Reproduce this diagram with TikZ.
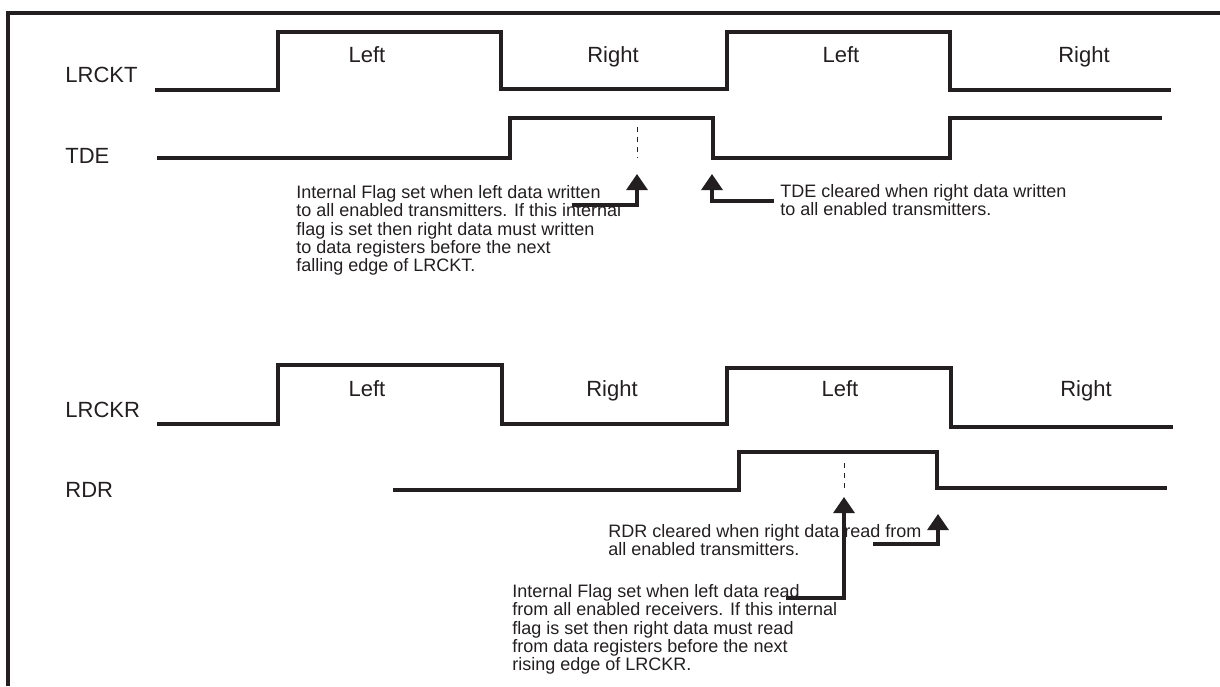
\documentclass[tikz,border=0pt]{standalone}
\usepackage{fontspec}
\setmainfont{Liberation Sans}
\usetikzlibrary{arrows.meta}
\definecolor{ink}{RGB}{35,31,32}
\begin{document}
\begin{tikzpicture}[x=0.5pt,y=-0.5pt,
  sig/.style={draw=ink,line width=1.6pt,line join=miter},
  frame/.style={draw=ink,line width=1.6pt},
  lbl/.style={font=\fontsize{11}{13}\selectfont,text=ink,inner sep=0pt,anchor=base west},
  half/.style={font=\fontsize{11}{13}\selectfont,text=ink,inner sep=0pt,anchor=base},
  note/.style={font=\fontsize{9}{9.15}\selectfont,text=ink,inner sep=0pt,anchor=north west,align=left},
  ptr/.style={draw=ink,line width=1.6pt,line join=miter,-{Triangle[width=10.5pt,length=8pt]}},
  guide/.style={draw=ink,line width=0.5pt,dash pattern=on 2.5pt off 2.5pt}]
\useasboundingbox (0,0) rectangle (1220,686);
% frame
\draw[frame] (8,686) -- (8,13) -- (1221,13);
% signal names
\node[lbl] (nLRCKT) at (65,82) {LRCKT};
\node[lbl] (nTDE) at (65,163) {TDE};
\node[lbl] (nLRCKR) at (65,417) {LRCKR};
\node[lbl] (nRDR) at (65,497) {RDR};
% waveforms
\draw[sig] (155,90) -- (278,90) -- (278,32) -- (501,32) -- (501,89) -- (727,89) -- (727,32) -- (950,32) -- (950,90) -- (1171,90);
\draw[sig] (157,158) -- (510,158) -- (510,118) -- (713,118) -- (713,158) -- (950,158) -- (950,118) -- (1162,118);
\draw[sig] (157,424) -- (278,424) -- (278,365) -- (502,365) -- (502,424) -- (727,424) -- (727,368) -- (951,368) -- (951,427) -- (1173,427);
\draw[sig] (393,490) -- (739,490) -- (739,452) -- (937,452) -- (937,488) -- (1167,488);
% half labels
\node[half] (tL1) at (367,62) {Left};
\node[half] (tR1) at (613,62) {Right};
\node[half] (tL2) at (841,62) {Left};
\node[half] (tR2) at (1084,62) {Right};
\node[half] (bL1) at (367,396) {Left};
\node[half] (bR1) at (612,396) {Right};
\node[half] (bL2) at (840,396) {Left};
\node[half] (bR2) at (1086,396) {Right};
% guides
\coordinate (g1a) at (637,127); \coordinate (g1b) at (637,158);
\coordinate (g2a) at (844,463); \coordinate (g2b) at (844,490);
\draw[guide] (g1a) -- (g1b);
\draw[guide] (g2a) -- (g2b);
% notes
\node[note] (noteT) at (296,185) {Internal Flag set when left data written\\to all enabled transmitters. If this internal\\flag is set then right data must written\\to data registers before the next\\falling edge of LRCKT.};
\node[note] (noteTC) at (780,184) {TDE cleared when right data written\\to all enabled transmitters.};
\node[note] (noteRC) at (608,524) {RDR cleared when right data read from\\all enabled transmitters.};
\node[note] (noteR) at (512,584) {Internal Flag set when left data read\\from all enabled receivers. If this internal\\flag is set then right data must read\\from data registers before the next\\rising edge of LRCKR.};
% pointers
\coordinate (a1s) at (572,205); \coordinate (a1t) at (637,174);
\coordinate (a2s) at (774,201); \coordinate (a2t) at (712,174);
\coordinate (a3s) at (786,598); \coordinate (a3t) at (844,497);
\coordinate (a4s) at (873,544); \coordinate (a4t) at (938,514);
\draw[ptr] (a1s) -| (a1t);
\draw[ptr] (a2s) -| (a2t);
\draw[ptr] (a3s) -| (a3t);
\draw[ptr] (a4s) -| (a4t);
\end{tikzpicture}
\end{document}
